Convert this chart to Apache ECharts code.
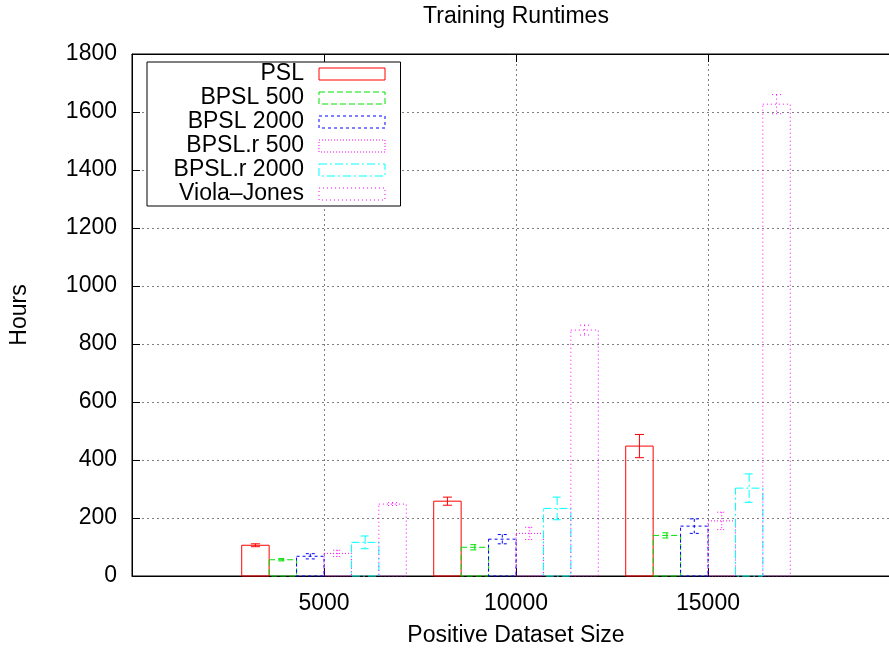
<!DOCTYPE html>
<html><head><meta charset="utf-8">
<script src="https://cdn.jsdelivr.net/npm/echarts@6/dist/echarts.min.js"></script>
<style>html,body{margin:0;padding:0;background:#fff}#c{width:889px;height:650px}</style>
</head><body><div id="c"></div>
<script>
// x tick labels (group positions 0,1,2)
const categories = ["5000", "10000", "15000"];
const seriesNames = ["PSL", "BPSL 500", "BPSL 2000", "BPSL.r 500", "BPSL.r 2000", "Viola–Jones"];

const psl        = [106, 258, 448];
const pslErr     = [5, 14, 40];
const bpsl500    = [56, 99, 140];
const bpsl500Err = [4, 9, 9];
const bpsl2000   = [68, 127, 172];
const bpsl2000Err= [9, 16, 25];
const bpslr500   = [78, 147, 190];
const bpslr500Err= [11, 21, 30];
const bpslr2000  = [116, 233, 303];
const bpslr2000Err=[22, 39, 49];
const violaJones = [248, 848, 1627];
const violaJonesErr=[5, 17, 33];

const values = [psl, bpsl500, bpsl2000, bpslr500, bpslr2000, violaJones];
const errors = [pslErr, bpsl500Err, bpsl2000Err, bpslr500Err, bpslr2000Err, violaJonesErr];

const colors = ["#ff0000", "#00e000", "#0000ff", "#ff00ff", "#00ffff", "#ff00ff"];
const dashes = [null, [6, 3], [3, 3], [1, 2], [8, 3, 2, 3], [1, 3]];

const FONT = "'Liberation Sans', Arial, Helvetica, sans-serif";
const FS = 23;
const nSeries = seriesNames.length;
const slot = 1 / (nSeries + 1);

function makeRender(idx) {
  return function (params, api) {
    const g = api.value(0), v = api.value(1), e = api.value(2);
    const cx = g + (idx - (nSeries - 1) / 2) * slot;
    const p0 = api.coord([cx - slot / 2, v]);
    const p1 = api.coord([cx + slot / 2, 0]);
    const top = api.coord([cx, v + e]);
    const bot = api.coord([cx, v - e]);
    const st = { stroke: colors[idx], lineWidth: 1, lineDash: dashes[idx], fill: null };
    const cap = 4.5;
    return {
      type: 'group',
      children: [
        { type: 'rect', shape: { x: p0[0], y: p0[1], width: p1[0] - p0[0], height: p1[1] - p0[1] },
          style: Object.assign({}, st, { fill: 'none' }) },
        { type: 'line', shape: { x1: top[0], y1: top[1], x2: bot[0], y2: bot[1] }, style: st },
        { type: 'line', shape: { x1: top[0] - cap, y1: top[1], x2: top[0] + cap, y2: top[1] }, style: st },
        { type: 'line', shape: { x1: bot[0] - cap, y1: bot[1], x2: bot[0] + cap, y2: bot[1] }, style: st }
      ]
    };
  };
}

const series = seriesNames.map((name, i) => ({
  name: name,
  type: 'custom',
  renderItem: makeRender(i),
  encode: { x: 0, y: 1 },
  itemStyle: { color: 'rgba(0,0,0,0)', borderColor: colors[i], borderWidth: 1, borderType: dashes[i] || 'solid' },
  data: categories.map((c, g) => [g, values[i][g], errors[i][g]]),
  z: 3
}));

const gridLine = { show: true, lineStyle: { color: '#808080', type: [2, 3], width: 1 } };

const chart = echarts.init(document.getElementById('c'), null, { renderer: 'canvas' });
chart.setOption({
  animation: false,
  backgroundColor: '#fff',
  title: {
    text: 'Training Runtimes', left: 516, top: 5, textAlign: 'center', padding: 0,
    textStyle: { fontFamily: FONT, fontSize: FS, fontWeight: 'normal', color: '#000' }
  },
  grid: { left: 132, top: 54, width: 768, height: 522, show: true, borderColor: '#000', borderWidth: 1,
    backgroundColor: 'transparent', containLabel: false, outerBoundsMode: 'none' },
  legend: {
    orient: 'vertical', left: 147, top: 62, align: 'right',
    padding: [0, 15, 0, 7], itemGap: 0, itemWidth: 66, itemHeight: 12,
    backgroundColor: '#fff', borderColor: '#000', borderWidth: 1,
    selectedMode: false,
    textStyle: { fontFamily: FONT, fontSize: FS, color: '#000', lineHeight: 24, width: 150, align: 'right', padding: [0, 10, 0, 0] },
    data: seriesNames.map((n, i) => ({
      name: n, icon: 'rect',
      itemStyle: { color: 'rgba(0,0,0,0)', borderColor: colors[i], borderWidth: 1, borderType: dashes[i] || 'solid' }
    }))
  },
  xAxis: [{
    type: 'value', min: -1, max: 3, interval: 1,
    name: 'Positive Dataset Size', nameLocation: 'middle', nameGap: 48,
    nameTextStyle: { fontFamily: FONT, fontSize: FS, color: '#000' },
    axisLine: { show: true, onZero: false, lineStyle: { color: '#000', width: 1 } },
    axisTick: { show: true, inside: true, length: 8, lineStyle: { color: '#000' } },
    axisLabel: { margin: 16, fontFamily: FONT, fontSize: FS, color: '#000',
      formatter: v => (v >= 0 && v < categories.length) ? categories[v] : '' },
    splitLine: gridLine
  }, {
    type: 'value', position: 'top', min: -1, max: 3, interval: 1,
    axisLine: { show: true, onZero: false, lineStyle: { color: '#000' } },
    axisTick: { show: true, inside: true, length: 8, lineStyle: { color: '#000' } },
    axisLabel: { show: false }, splitLine: { show: false }
  }],
  yAxis: {
    type: 'value', min: 0, max: 1800, interval: 200,
    name: 'Hours', nameLocation: 'middle', nameGap: 101, nameRotate: 90,
    nameTextStyle: { fontFamily: FONT, fontSize: FS, color: '#000' },
    axisLine: { show: true, onZero: false, lineStyle: { color: '#000', width: 1 } },
    axisTick: { show: true, inside: true, length: 8, lineStyle: { color: '#000' } },
    axisLabel: { margin: 15, fontFamily: FONT, fontSize: FS, color: '#000', formatter: v => String(v) },
    splitLine: gridLine
  },
  series: series
});
</script></body></html>
